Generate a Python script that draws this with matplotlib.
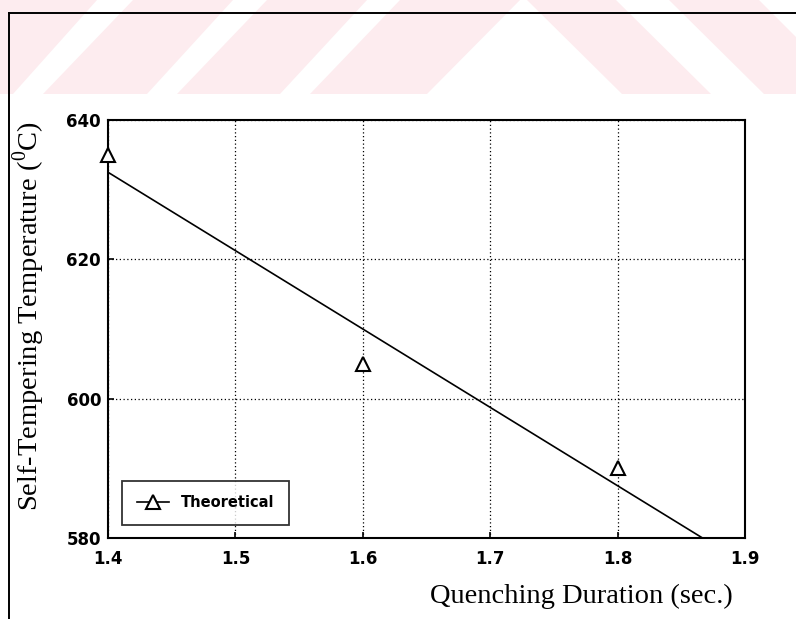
import numpy as np
import matplotlib
matplotlib.use("Agg")
import matplotlib.pyplot as plt
from matplotlib.patches import Polygon, Rectangle
from matplotlib.lines import Line2D

# Measured self-tempering temperatures
duration = [1.4, 1.6, 1.8]          # quenching duration (sec.)
temperature = [635, 605, 590]       # self-tempering temperature (deg C)

x_ticks = [1.4, 1.5, 1.6, 1.7, 1.8, 1.9]
y_ticks = [580, 600, 620, 640]

plt.rcParams["mathtext.fontset"] = "custom"
plt.rcParams["mathtext.rm"] = "Liberation Serif"

W, H = 796, 619
fig = plt.figure(figsize=(W / 100, H / 100), dpi=100)
fig.patch.set_facecolor("white")


def px(points):
    return [(x / W, 1 - y / H) for x, y in points]


# light pink banner with white diagonal bands along the top
pink = "#fdecef"
fig.patches.append(Rectangle((0, 1 - 94 / H), 1, 94 / H, transform=fig.transFigure,
                             facecolor=pink, edgecolor="none", zorder=0))
white_bands = [
    [(97, 0), (133, 0), (43, 94), (13, 94)],
    [(233, 0), (267, 0), (177, 94), (147, 94)],
    [(367, 0), (400, 0), (310, 94), (280, 94)],
    [(520, 0), (527, 0), (622, 94), (427, 94)],
    [(616, 0), (669, 0), (764, 94), (711, 94)],
    [(759, 0), (796, 0), (796, 37)],
]
for band in white_bands:
    fig.patches.append(Polygon(px(band), closed=True, transform=fig.transFigure,
                               facecolor="white", edgecolor="none", zorder=0))

# page frame lines
fig.lines.append(Line2D([9 / W, 1], [1 - 13 / H, 1 - 13 / H], transform=fig.transFigure,
                        color="black", lw=1.4))
fig.lines.append(Line2D([9 / W, 9 / W], [1 - 13 / H, 0], transform=fig.transFigure,
                        color="black", lw=1.4))

ax = fig.add_axes([108 / W, 1 - 538 / H, 637 / W, 418 / H])
ax.set_xlim(1.4, 1.9)
ax.set_ylim(580, 640)
ax.set_xticks(x_ticks)
ax.set_yticks(y_ticks)
ax.set_xticklabels([f"{v:.1f}" for v in x_ticks])
ax.set_yticklabels([str(v) for v in y_ticks])

ax.grid(True, color="black", linestyle=(0, (1, 2)), linewidth=0.9)
for s in ax.spines.values():
    s.set_linewidth(1.5)
ax.tick_params(direction="in", length=4, width=1.2)
ax.tick_params(axis="x", pad=9)
ax.tick_params(axis="y", pad=5)
for lab in ax.get_xticklabels() + ax.get_yticklabels():
    lab.set_fontfamily("DejaVu Sans")
    lab.set_fontweight("bold")
    lab.set_fontsize(12)

# least-squares trend line through the measurements
slope, intercept = np.polyfit(duration, temperature, 1)
xs = np.array([1.4, 1.9])
fit_line, = ax.plot(xs, slope * xs + intercept, color="black", lw=1.2)
pts, = ax.plot(duration, temperature, linestyle="none", marker="^", markersize=10,
               markerfacecolor="white", markeredgecolor="black", markeredgewidth=1.5,
               clip_on=False, zorder=5)

leg = ax.legend([(fit_line, pts)], ["Theoretical"], loc="lower left",
                bbox_to_anchor=(7 / 637, 6 / 418), frameon=True, fancybox=False,
                edgecolor="black", borderpad=1.0, handlelength=2.2,
                prop={"family": "DejaVu Sans", "weight": "bold", "size": 10.5})
leg.get_frame().set_linewidth(1.3)

fig.text(29 / W, 1 - 316 / H, r"Self-Tempering Temperature ($^{\rm 0}$C)",
         rotation=90, ha="center", va="center", family="Liberation Serif", fontsize=20.5)
fig.text(733 / W, 1 - 603 / H, "Quenching Duration (sec.)", ha="right", va="baseline",
         family="Liberation Serif", fontsize=20.5)

fig.savefig("out.png", dpi=100)
